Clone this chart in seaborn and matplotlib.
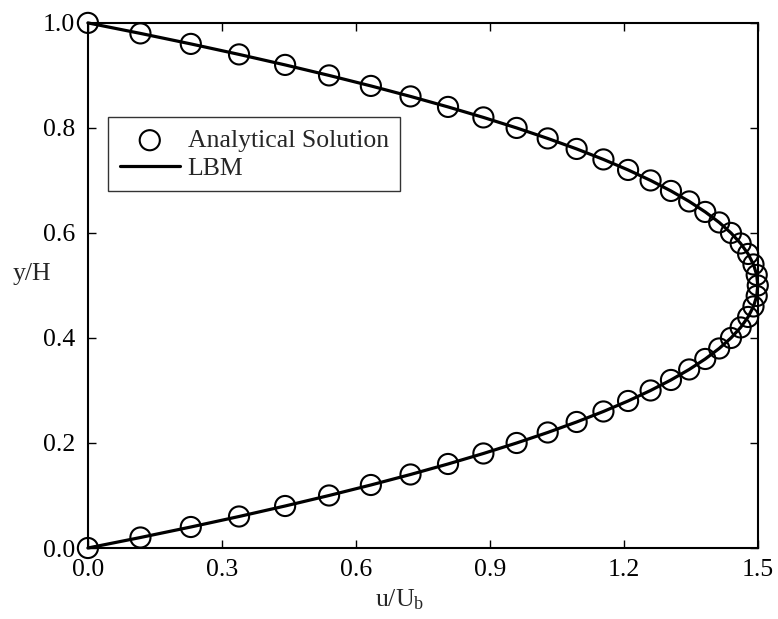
import matplotlib
matplotlib.use("Agg")
import matplotlib.pyplot as plt
import seaborn as sns
import pandas as pd

# wall-normal position y/H
y_pos = [0.00, 0.02, 0.04, 0.06, 0.08, 0.10, 0.12, 0.14, 0.16, 0.18,
         0.20, 0.22, 0.24, 0.26, 0.28, 0.30, 0.32, 0.34, 0.36, 0.38,
         0.40, 0.42, 0.44, 0.46, 0.48, 0.50, 0.52, 0.54, 0.56, 0.58,
         0.60, 0.62, 0.64, 0.66, 0.68, 0.70, 0.72, 0.74, 0.76, 0.78,
         0.80, 0.82, 0.84, 0.86, 0.88, 0.90, 0.92, 0.94, 0.96, 0.98, 1.00]

# analytical velocity u/Ub
u_analytical = [0.0000, 0.1176, 0.2304, 0.3384, 0.4416, 0.5400, 0.6336, 0.7224, 0.8064, 0.8856,
                0.9600, 1.0296, 1.0944, 1.1544, 1.2096, 1.2600, 1.3056, 1.3464, 1.3824, 1.4136,
                1.4400, 1.4616, 1.4784, 1.4904, 1.4976, 1.5000, 1.4976, 1.4904, 1.4784, 1.4616,
                1.4400, 1.4136, 1.3824, 1.3464, 1.3056, 1.2600, 1.2096, 1.1544, 1.0944, 1.0296,
                0.9600, 0.8856, 0.8064, 0.7224, 0.6336, 0.5400, 0.4416, 0.3384, 0.2304, 0.1176, 0.0000]

# LBM result (same profile)
u_lbm = list(u_analytical)

x_ticks = [0.0, 0.3, 0.6, 0.9, 1.2, 1.5]
y_ticks = [0.0, 0.2, 0.4, 0.6, 0.8, 1.0]

df = pd.DataFrame({"y": y_pos, "u_ana": u_analytical, "u_lbm": u_lbm})

sns.set_style("ticks")
plt.rcParams["font.family"] = ["Liberation Serif", "DejaVu Serif"]
plt.rcParams["mathtext.fontset"] = "custom"
plt.rcParams["mathtext.rm"] = "Liberation Serif"
plt.rcParams["mathtext.it"] = "Liberation Serif:italic"

fs = 18.5

fig = plt.figure(figsize=(7.78, 6.19), dpi=100)
ax = fig.add_axes([0.113, 0.1147, 0.861, 0.8483])

sns.lineplot(data=df, x="u_lbm", y="y", sort=False, estimator=None,
             color="black", linewidth=2.3, ax=ax, label="LBM", clip_on=False)
sns.scatterplot(data=df, x="u_ana", y="y", marker="o", s=210,
                facecolors="none", edgecolor="black", linewidth=1.5,
                ax=ax, label="Analytical Solution", clip_on=False, zorder=3)

ax.set_xlim(0, 1.5)
ax.set_ylim(0, 1.0)
ax.set_xticks(x_ticks)
ax.set_yticks(y_ticks)
ax.set_xticklabels([f"{v:.1f}" for v in x_ticks])
ax.set_yticklabels([f"{v:.1f}" for v in y_ticks])
ax.tick_params(direction="in", length=6, width=1, top=True, right=True,
               labelsize=fs, colors="black")
ax.tick_params(axis="y", pad=9)
ax.tick_params(axis="x", pad=8)
for sp in ax.spines.values():
    sp.set_linewidth(1.5)
    sp.set_color("black")

ax.set_xlabel("u/U$_\\mathrm{b}$", fontsize=fs)
ax.set_ylabel("y/H", fontsize=fs, rotation=0, ha="center", va="center")
ax.yaxis.set_label_coords(-0.083, 0.522)
ax.xaxis.set_label_coords(0.466, -0.075)
ax.xaxis.label.set_va("top")

handles, labels = ax.get_legend_handles_labels()
order = [labels.index("Analytical Solution"), labels.index("LBM")]
leg = ax.legend([handles[i] for i in order], [labels[i] for i in order],
                loc="upper left", bbox_to_anchor=(0.03, 0.82), fontsize=fs,
                frameon=True, fancybox=False, edgecolor="black",
                handlelength=2.35, handletextpad=0.3, borderpad=0.45,
                labelspacing=0.18, borderaxespad=0)
leg.get_frame().set_linewidth(1.0)

fig.savefig("out.png", dpi=100)
